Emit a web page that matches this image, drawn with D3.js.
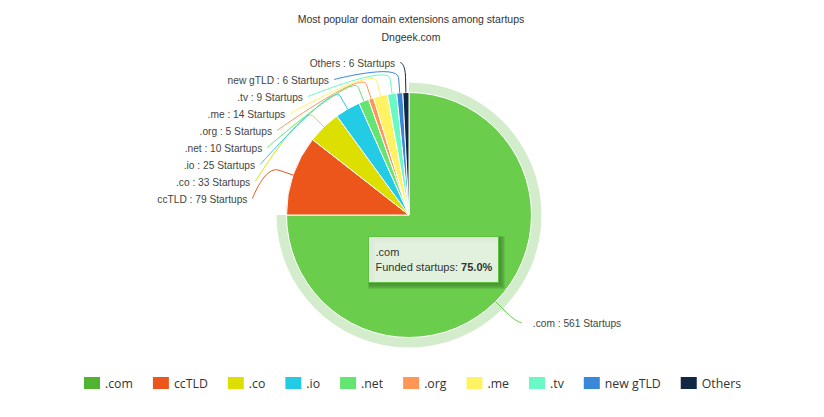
<!DOCTYPE html>
<html>
<head>
<meta charset="utf-8">
<script src="https://cdn.jsdelivr.net/npm/d3@7"></script>
<style>
  body { margin: 0; background: #fff; }
  svg { display: block; }
</style>
</head>
<body>
<div id="chart"></div>
<script>
// data
var categories = [".com", "ccTLD", ".co", ".io", ".net", ".org", ".me", ".tv", "new gTLD", "Others"];
var startups = [561, 79, 33, 25, 10, 5, 14, 9, 6, 6];
var colors = ["#50B432", "#ED561B", "#DDDF00", "#24CBE5", "#64E572", "#FF9655", "#FFF263", "#6AF9C4", "#3a87d8", "#122744"];
var titleText = "Most popular domain extensions among startups";
var subtitleText = "Dngeek.com";
var hoverIndex = 0;

var svgWidth = 824;
var svgHeight = 417;

var cx = 409;
var cy = 215;
var radius = 122.5;
var labelDistance = 30;
var labelRadius = radius + labelDistance;
var lineHeight = 17;

var svg = d3.select("#chart")
    .append("svg")
    .attr("width", svgWidth)
    .attr("height", svgHeight);

// Title
svg.append("text")
    .attr("x", 411)
    .attr("y", 23)
    .attr("text-anchor", "middle")
    .attr("font-family", "Liberation Sans, Arial, sans-serif")
    .attr("font-size", 10.5)
    .attr("fill", "#333")
    .text(titleText);

svg.append("text")
    .attr("x", 411)
    .attr("y", 41)
    .attr("text-anchor", "middle")
    .attr("font-family", "Liberation Sans, Arial, sans-serif")
    .attr("font-size", 10.5)
    .attr("fill", "#333")
    .text(subtitleText);

// brighten like the hover state
function brighten(hex, amount) {
    var c = d3.rgb(hex);
    return d3.rgb(
        Math.min(255, c.r + 255 * amount),
        Math.min(255, c.g + 255 * amount),
        Math.min(255, c.b + 255 * amount)
    ).formatHex();
}

var total = d3.sum(startups);

var pie = d3.pie().sort(null).value(function (d) { return d; });
var arcs = pie(startups);

var arc = d3.arc().innerRadius(0).outerRadius(radius);
var halo = d3.arc().innerRadius(radius).outerRadius(radius + 10);

var g = svg.append("g").attr("transform", "translate(" + cx + "," + cy + ")");

// halo around the hovered slice
g.append("path")
    .attr("d", halo(arcs[hoverIndex]))
    .attr("fill", colors[hoverIndex])
    .attr("fill-opacity", 0.25);

// slices
g.selectAll("path.slice")
    .data(arcs)
    .enter()
    .append("path")
    .attr("class", "slice")
    .attr("d", arc)
    .attr("fill", function (d, i) { return i === hoverIndex ? brighten(colors[i], 0.1) : colors[i]; })
    .attr("stroke", "#fff")
    .attr("stroke-width", 1)
    .attr("stroke-linejoin", "round");

function polar(angle, r) {
    return [Math.sin(angle) * r, -Math.cos(angle) * r];
}

// label positions (left side labels pushed down from the top)
var labels = arcs.map(function (d, i) {
    var mid = (d.startAngle + d.endAngle) / 2;
    var nat = polar(mid, labelRadius);
    return { i: i, mid: mid, left: nat[0] < 0, y: nat[1] };
});

var leftLabels = labels.filter(function (l) { return l.left; })
    .sort(function (a, b) { return a.y - b.y; });
var prev = -Infinity;
leftLabels.forEach(function (l) {
    l.y = Math.max(l.y, prev + lineHeight);
    prev = l.y;
});

labels.forEach(function (l) {
    var dy = Math.max(-labelRadius, Math.min(labelRadius, l.y));
    var dx = Math.sqrt(labelRadius * labelRadius - dy * dy);
    l.x = l.left ? -dx - 5 : dx + 5;
});

// connectors
labels.forEach(function (l) {
    var touch = polar(l.mid, radius);
    var brk = polar(l.mid, radius + 15);
    var path = d3.path();
    path.moveTo(l.x, l.y);
    path.bezierCurveTo(l.x, l.y, 2 * brk[0] - touch[0], 2 * brk[1] - touch[1], brk[0], brk[1]);
    path.lineTo(touch[0], touch[1]);
    g.append("path")
        .attr("d", path.toString())
        .attr("fill", "none")
        .attr("stroke", l.i === hoverIndex ? brighten(colors[l.i], 0.1) : colors[l.i])
        .attr("stroke-width", 1);
});

// data labels
labels.forEach(function (l) {
    g.append("text")
        .attr("x", l.left ? l.x - 5 : l.x + 11)
        .attr("y", l.y + 4.5)
        .attr("text-anchor", l.left ? "end" : "start")
        .attr("font-family", "Liberation Sans, Arial, sans-serif")
        .attr("font-size", 10.2)
        .attr("fill", "#444")
        .text(categories[l.i] + " : " + startups[l.i] + " Startups");
});

// tooltip for the hovered slice
var tip = svg.append("g").attr("transform", "translate(368.5,236.5)");
[3, 2, 1].forEach(function (s) {
    tip.append("rect")
        .attr("x", s).attr("y", s)
        .attr("width", 130).attr("height", 46)
        .attr("fill", "none")
        .attr("stroke", "#000")
        .attr("stroke-opacity", 0.05 * s)
        .attr("stroke-width", 2 * s);
});
tip.append("rect")
    .attr("width", 130)
    .attr("height", 46)
    .attr("fill", "rgba(247,247,247,0.85)")
    .attr("stroke", brighten(colors[hoverIndex], 0.05))
    .attr("stroke-width", 1);
tip.append("text")
    .attr("x", 7)
    .attr("y", 19.5)
    .attr("font-family", "Liberation Sans, Arial, sans-serif")
    .attr("font-size", 11)
    .attr("fill", "#333")
    .text(categories[hoverIndex]);
var tipLine = tip.append("text")
    .attr("x", 7)
    .attr("y", 34.5)
    .attr("font-family", "Liberation Sans, Arial, sans-serif")
    .attr("font-size", 11)
    .attr("fill", "#333");
tipLine.append("tspan").text("Funded startups: ");
tipLine.append("tspan")
    .attr("font-weight", "bold")
    .text((startups[hoverIndex] / total * 100).toFixed(1) + "%");

// Legend
var legend = svg.append("g");
var itemX = 0;
var itemDistance = 20;
categories.forEach(function (name, i) {
    var item = legend.append("g");
    item.append("rect")
        .attr("x", 0).attr("y", -6)
        .attr("width", 16).attr("height", 12)
        .attr("fill", colors[i]);
    var t = item.append("text")
        .attr("x", 21)
        .attr("y", 4.5)
        .attr("font-family", "Open Sans, sans-serif")
        .attr("font-size", 12.3)
        .attr("fill", "#333")
        .text(name);
    var w = t.node().getComputedTextLength();
    item.attr("transform", "translate(" + itemX + ",0)");
    itemX += 21 + w + itemDistance;
});
var legendWidth = itemX - itemDistance;
legend.attr("transform", "translate(" + Math.round(413 - legendWidth / 2) + ",383)");
</script>
</body>
</html>
